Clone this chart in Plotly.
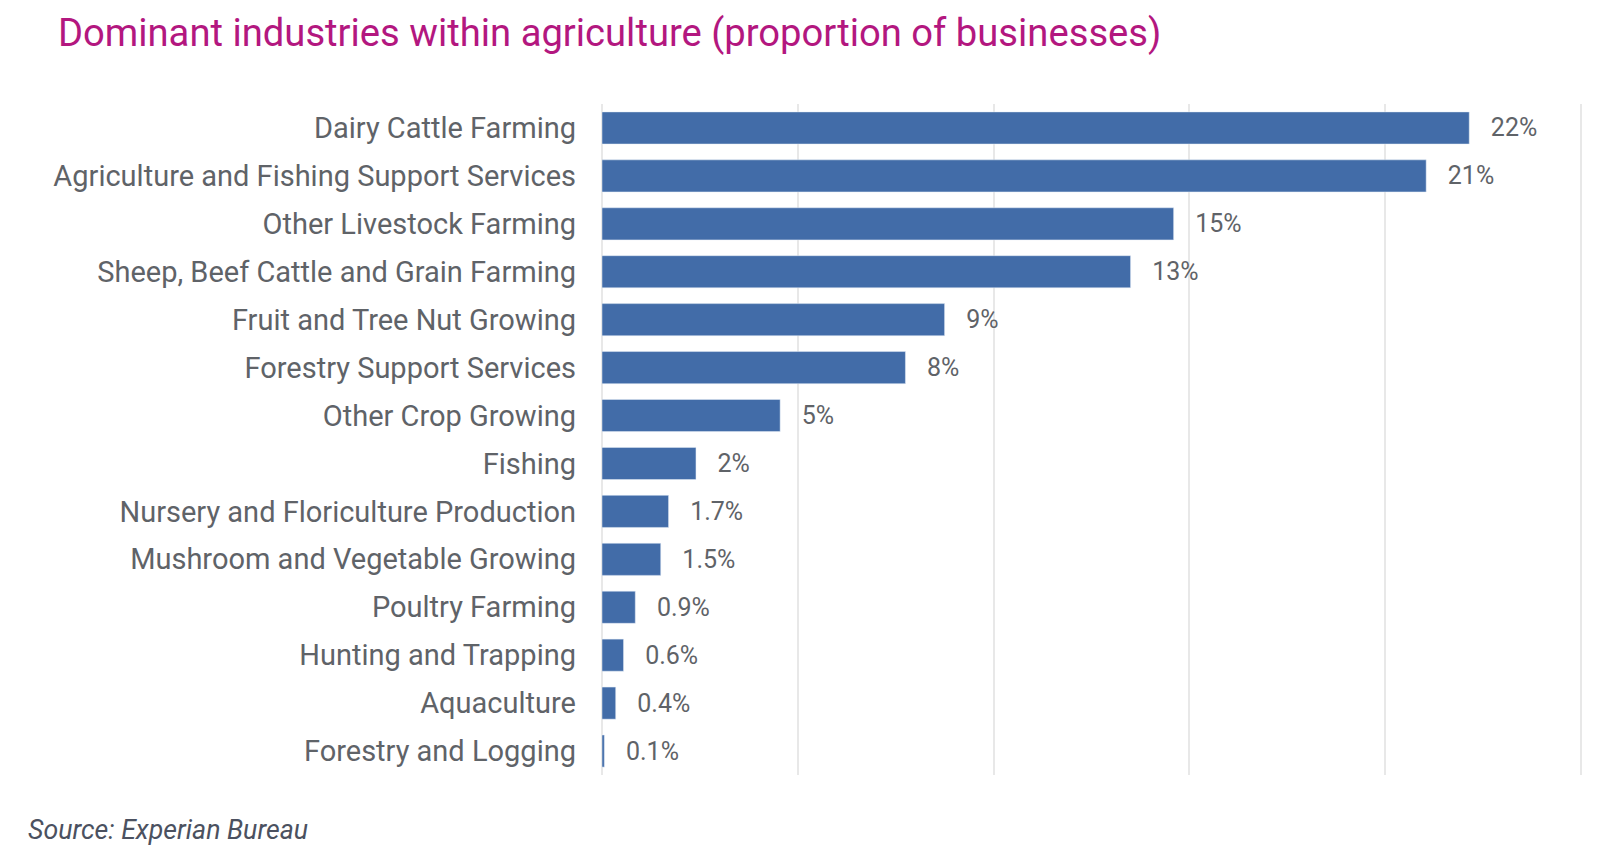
import plotly.graph_objects as go

# industries, top to bottom as in the chart
industries = [
    "Dairy Cattle Farming",
    "Agriculture and Fishing Support Services",
    "Other Livestock Farming",
    "Sheep, Beef Cattle and Grain Farming",
    "Fruit and Tree Nut Growing",
    "Forestry Support Services",
    "Other Crop Growing",
    "Fishing",
    "Nursery and Floriculture Production",
    "Mushroom and Vegetable Growing",
    "Poultry Farming",
    "Hunting and Trapping",
    "Aquaculture",
    "Forestry and Logging",
]
share = [22.15, 21.05, 14.6, 13.5, 8.75, 7.75, 4.55, 2.4, 1.7, 1.5, 0.85, 0.55, 0.35, 0.06]
share_labels = ["22%", "21%", "15%", "13%", "9%", "8%", "5%", "2%",
                "1.7%", "1.5%", "0.9%", "0.6%", "0.4%", "0.1%"]

FONT = "Roboto"
GREY = "#5f6368"

fig = go.Figure(
    go.Bar(
        x=share,
        y=industries,
        orientation="h",
        text=share_labels,
        texttemplate="\u00a0\u00a0\u00a0%{text}",
        textposition="outside",
        cliponaxis=False,
        textfont=dict(family=FONT, size=25, color=GREY),
        marker=dict(color="#426ca8"),
        hoverinfo="skip",
    )
)

# page body keeps an 8px margin, so the figure is sized to fit the window
fig.update_layout(
    width=1585,
    height=839,
    margin=dict(l=594, r=11, t=96, b=72),
    plot_bgcolor="white",
    paper_bgcolor="white",
    bargap=0.33,
    showlegend=False,
    font=dict(family=FONT, color=GREY),
    title=dict(
        text="Dominant industries within agriculture (proportion of businesses)",
        x=0.0315, xanchor="left", y=0.971, yanchor="middle",
        font=dict(family=FONT, size=38.2, color="#b3177f"),
    ),
    annotations=[
        dict(
            text="<i>Source: Experian Bureau</i>",
            xref="paper", yref="paper", x=-0.588, y=-0.082,
            xanchor="left", yanchor="middle", showarrow=False,
            font=dict(family=FONT, size=26.7, color="#4b5160"),
        )
    ],
)
fig.update_xaxes(
    range=[0, 25.03], dtick=5, showticklabels=False,
    showgrid=True, gridcolor="#e8e8e8", gridwidth=2,
    zeroline=True, zerolinecolor="#e8e8e8", zerolinewidth=2,
)
fig.update_yaxes(
    autorange="reversed", ticks="", ticklabelstandoff=25,
    tickfont=dict(family=FONT, size=29, color=GREY),
)

fig.write_html("out.html")
